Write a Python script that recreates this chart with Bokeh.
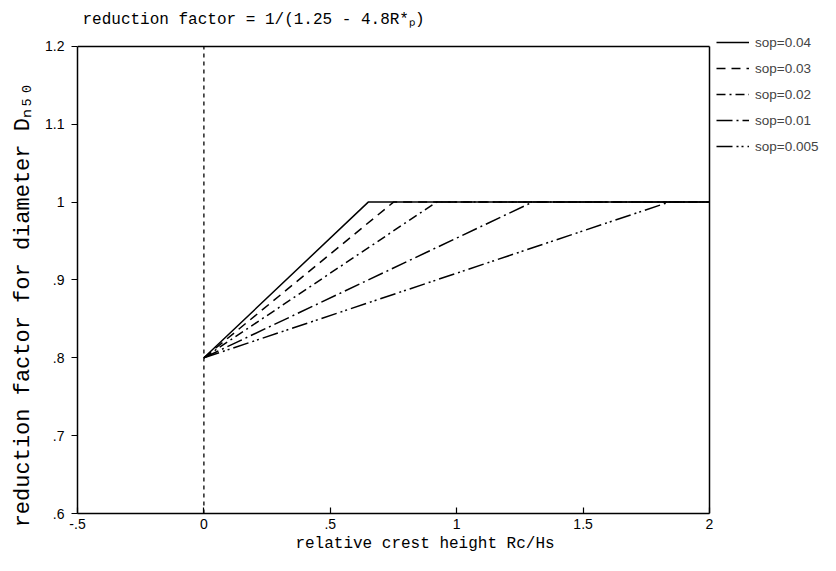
from bokeh.plotting import figure
from bokeh.models import FixedTicker, Legend, LegendItem, Range1d
from bokeh.embed import file_html
from bokeh.resources import INLINE

# ---- data ----
sop_labels = ["sop=0.04", "sop=0.03", "sop=0.02", "sop=0.01", "sop=0.005"]
knee_x = [0.65, 0.75, 0.92, 1.30, 1.84]   # Rc/Hs where the factor reaches 1
start_x = 0.0
start_y = 0.80
plateau_y = 1.0
end_x = 2.0
x_min, x_max = -0.5, 2.0
y_min, y_max = 0.6, 1.2
x_ticks = [-0.5, 0, 0.5, 1, 1.5, 2]
x_tick_labels = ["-.5", "0", ".5", "1", "1.5", "2"]
y_ticks = [0.6, 0.7, 0.8, 0.9, 1.0, 1.1, 1.2]
y_tick_labels = [".6", ".7", ".8", ".9", "1", "1.1", "1.2"]

dash_styles = ["solid", "9 6", "9 4 2 4", "16 4 2 4", "16 4 2 3 2 4"]

title_text = "reduction factor = 1/(1.25 - 4.8R*\u209a)"
x_title = "relative crest height Rc/Hs" + "\u00a0" * 5
y_title = "reduction factor for diameter D\u2099\u2085\u2080" + "\u00a0" * 5

# ---- layout (pixels) ----
W, H = 820, 555
AX_L, AX_T, AX_R, AX_B = 77, 46, 709, 516    # the drawn axes box
TOP = 30                                      # frame top (room for legend)
px_x = (AX_R - AX_L) / (x_max - x_min)
px_y = (AX_B - AX_T) / (y_max - y_min)
x_ext = x_max + (W - AX_R) / px_x
y_ext = y_max + (AX_T - TOP) / px_y

p = figure(width=W, height=H, x_range=Range1d(x_min, x_ext), y_range=Range1d(y_min, y_ext),
           output_backend="svg", toolbar_location=None, title=title_text,
           min_border_left=AX_L, min_border_right=0,
           min_border_top=TOP, min_border_bottom=H - AX_B)
p.xgrid.visible = False
p.ygrid.visible = False
p.outline_line_color = None
p.background_fill_color = "white"
p.border_fill_color = "white"

mono = "Liberation Mono"
sans = "Liberation Sans"

p.title.text_font = mono
p.title.text_font_size = "16px"
p.title.text_font_style = "normal"
p.title.text_color = "black"
p.title.align = "left"
p.title.offset = 5
p.title.standoff = 3

for ax, ticks, labels, bnds in ((p.xaxis[0], x_ticks, x_tick_labels, (x_min, x_max)),
                                (p.yaxis[0], y_ticks, y_tick_labels, (y_min, y_max))):
    ax.bounds = bnds
    ax.ticker = FixedTicker(ticks=ticks)
    ax.major_label_overrides = {t: l for t, l in zip(ticks, labels)}
    ax.minor_tick_line_color = None
    ax.axis_line_color = "black"
    ax.axis_line_width = 1.5
    ax.major_tick_line_color = "black"
    ax.major_tick_line_width = 1.2
    ax.major_label_text_font = sans
    ax.major_label_text_font_size = "14px"
    ax.major_label_text_color = "black"
    ax.axis_label_text_font = mono
    ax.axis_label_text_font_style = "normal"
    ax.axis_label_text_color = "black"

p.xaxis.major_tick_in = 6
p.xaxis.major_tick_out = 0
p.xaxis.major_label_standoff = 5
p.xaxis.axis_label_standoff = 3
p.xaxis.axis_label = x_title
p.xaxis.axis_label_text_font_size = "16px"

p.yaxis.major_tick_in = 0
p.yaxis.major_tick_out = 6
p.yaxis.major_label_standoff = 7
p.yaxis.axis_label_standoff = 6
p.yaxis.axis_label = y_title
p.yaxis.axis_label_text_font_size = "22px"

# top and right edges of the axes box
p.segment(x0=[x_min, x_max], y0=[y_max, y_min], x1=[x_max, x_max], y1=[y_max, y_max],
          line_color="black", line_width=1.5)
# dashed line at Rc/Hs = 0
p.segment(x0=[start_x], y0=[y_min], x1=[start_x], y1=[y_max],
          line_color="black", line_width=1.3, line_dash="4 4")

items = []
for lab, kx, dash in zip(sop_labels, knee_x, dash_styles):
    r = p.line([start_x, kx, end_x], [start_y, plateau_y, plateau_y],
               line_color="black", line_width=1.5, line_dash=dash)
    items.append(LegendItem(label=lab, renderers=[r]))

row_h, row_gap, n = 20, 6, len(items)
leg_h = n * row_h + (n - 1) * row_gap
leg_top = AX_T - 11
legend = Legend(items=items, location=(AX_R + 7 - AX_L, AX_B - leg_top - leg_h),
                glyph_width=33, glyph_height=row_h, label_height=row_h,
                spacing=row_gap, padding=0, margin=0,
                border_line_color=None, background_fill_alpha=0,
                label_text_font=sans, label_text_font_size="13.5px",
                label_standoff=6)
p.add_layout(legend)

open("out.html", "w").write(file_html(p, INLINE))
